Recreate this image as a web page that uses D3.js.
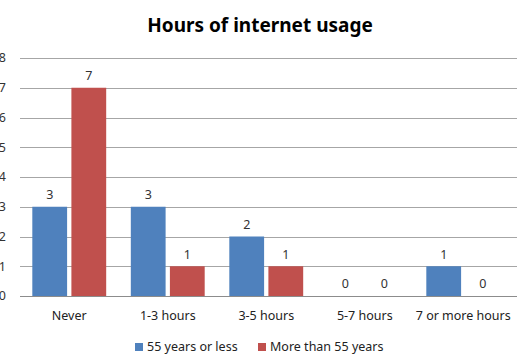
<!DOCTYPE html>
<html>
<head>
<meta charset="utf-8">
<title>Hours of internet usage</title>
<script src="https://cdn.jsdelivr.net/npm/d3@7"></script>
<style>
body { margin: 0; background: #fff; }
svg { font-family: "Noto Sans", "Open Sans", sans-serif; }
</style>
</head>
<body>
<script>
  // data
  var categories = ["Never", "1-3 hours", "3-5 hours", "5-7 hours", "7 or more hours"];
  var seriesNames = ["55 years or less", "More than 55 years"];
  var young = [3, 3, 2, 0, 1];
  var old = [7, 1, 1, 0, 0];
  var yTicks = [0, 1, 2, 3, 4, 5, 6, 7, 8];
  var colors = ["#4F81BD", "#C0504D"];

  var width = 517, height = 355;
  var plotLeft = 20, plotRight = 512.5, plotTop = 58, plotBottom = 296;

  var svg = d3.select("body").append("svg")
    .attr("width", width).attr("height", height);

  var x = d3.scaleBand().domain(categories).range([plotLeft, plotRight]).paddingInner(0.25).paddingOuter(0.125);
  var x1 = d3.scaleBand().domain(seriesNames).range([0, x.bandwidth()]).paddingInner(0.11);
  var y = d3.scaleLinear().domain([0, 8]).range([plotBottom, plotTop]);

  // gridlines
  svg.append("g").selectAll("line")
    .data(yTicks)
    .enter().append("line")
    .attr("x1", plotLeft).attr("x2", width)
    .attr("y1", function(d) { return Math.round(y(d)) + 0.5; })
    .attr("y2", function(d) { return Math.round(y(d)) + 0.5; })
    .attr("stroke", function(d) { return d === 0 ? "#8c8c8c" : "#a6a6a6"; })
    .attr("stroke-width", 1);

  // y labels
  svg.append("g").selectAll("text")
    .data(yTicks)
    .enter().append("text")
    .attr("x", 6).attr("y", function(d) { return y(d); })
    .attr("dy", "0.35em")
    .attr("text-anchor", "end")
    .attr("font-size", 12.5)
    .attr("fill", "#333")
    .text(function(d) { return d; });

  // bars
  var rows = categories.map(function(c, i) {
    return { cat: c, values: [young[i], old[i]] };
  });

  var groups = svg.append("g").selectAll("g")
    .data(rows)
    .enter().append("g")
    .attr("transform", function(d) { return "translate(" + x(d.cat) + ",0)"; });

  groups.selectAll("rect")
    .data(function(d) { return d.values.map(function(v, j) { return { name: seriesNames[j], v: v, j: j }; }); })
    .enter().append("rect")
    .attr("x", function(d) { return x1(d.name); })
    .attr("y", function(d) { return y(d.v); })
    .attr("width", x1.bandwidth())
    .attr("height", function(d) { return y(0) - y(d.v); })
    .attr("fill", function(d) { return colors[d.j]; });

  groups.selectAll("text")
    .data(function(d) { return d.values.map(function(v, j) { return { name: seriesNames[j], v: v, j: j }; }); })
    .enter().append("text")
    .attr("x", function(d) { return x1(d.name) + x1.bandwidth() / 2; })
    .attr("y", function(d) { return y(d.v) - 12; })
    .attr("dy", "0.35em")
    .attr("text-anchor", "middle")
    .attr("font-size", 12.5)
    .attr("fill", "#333")
    .text(function(d) { return d.v; });

  // x labels
  svg.append("g").selectAll("text")
    .data(categories)
    .enter().append("text")
    .attr("x", function(d) { return x(d) + x.bandwidth() / 2; })
    .attr("y", 316)
    .attr("dy", "0.35em")
    .attr("text-anchor", "middle")
    .attr("font-size", 12.5)
    .attr("fill", "#222")
    .text(function(d) { return d; });

  // title
  svg.append("text")
    .attr("x", 260).attr("y", 25)
    .attr("dy", "0.35em")
    .attr("text-anchor", "middle")
    .attr("font-size", 19)
    .attr("font-weight", "bold")
    .attr("fill", "#000")
    .text("Hours of internet usage");

  // legend
  var legendX = [135, 258];
  var legend = svg.append("g").selectAll("g")
    .data(seriesNames)
    .enter().append("g")
    .attr("transform", function(d, i) { return "translate(" + legendX[i] + ",347)"; });

  legend.append("rect")
    .attr("x", 0).attr("y", -4)
    .attr("width", 8).attr("height", 8)
    .attr("fill", function(d, i) { return colors[i]; });

  legend.append("text")
    .attr("x", 12).attr("y", 0)
    .attr("dy", "0.35em")
    .attr("font-size", 12.5)
    .attr("fill", "#222")
    .text(function(d) { return d; });
</script>
</body>
</html>
